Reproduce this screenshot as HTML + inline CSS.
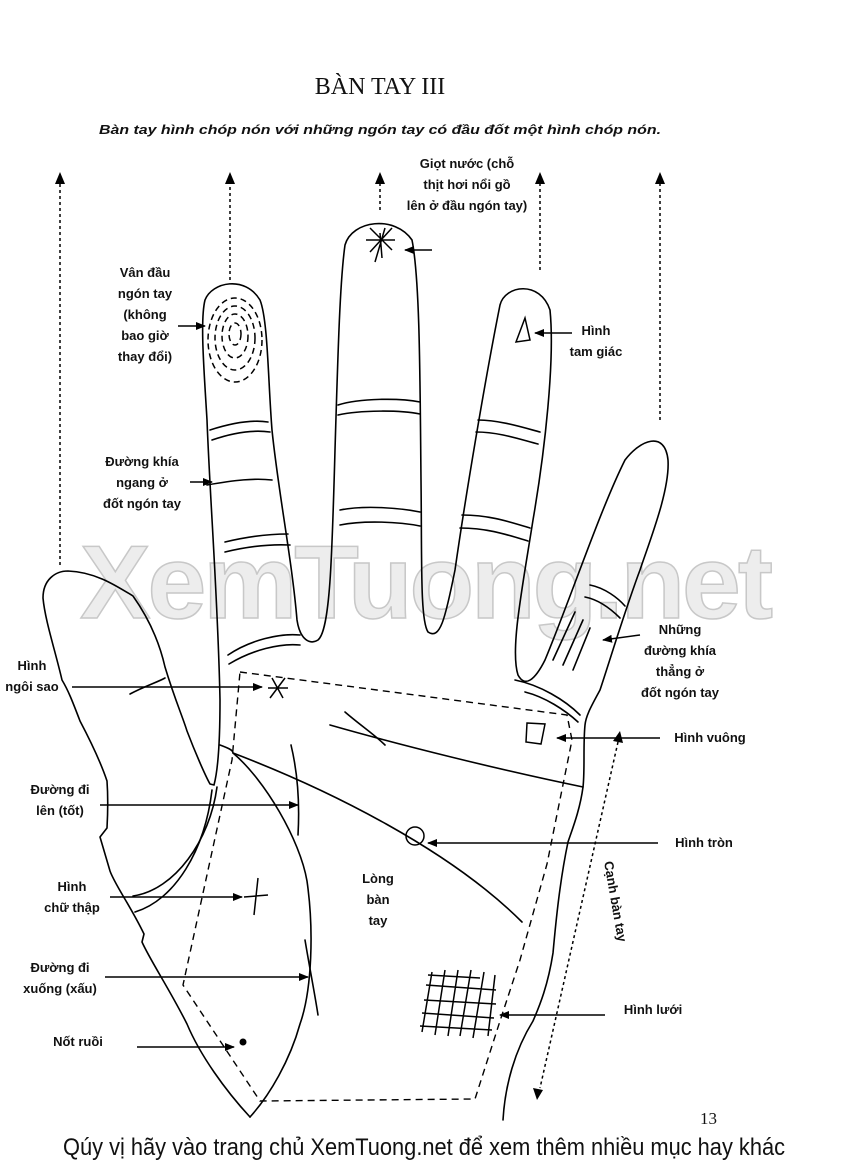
<!DOCTYPE html>
<html><head><meta charset="utf-8">
<style>
html,body{margin:0;padding:0;background:#fff;}
body{width:850px;height:1171px;overflow:hidden;position:relative;}
svg{position:absolute;left:0;top:0;}
.l{font-family:"Liberation Sans",sans-serif;font-weight:bold;font-size:13px;fill:#111;}
</style></head><body>
<svg width="850" height="1171" viewBox="0 0 850 1171" xmlns="http://www.w3.org/2000/svg">
<defs>
<marker id="a" markerWidth="10" markerHeight="8" refX="9" refY="4" orient="auto" markerUnits="userSpaceOnUse">
<path d="M0,0 L10,4 L0,8 z" fill="#000"/></marker>
</defs>
<!-- watermark -->
<text x="425" y="618" text-anchor="middle" font-family="Liberation Sans,sans-serif" font-weight="bold" font-size="104" fill="#ededed" stroke="#c8c8c8" stroke-width="1.5" letter-spacing="-3" textLength="690" lengthAdjust="spacingAndGlyphs">XemTuong.net</text>

<text x="380" y="94" text-anchor="middle" font-family="Liberation Serif,serif" font-size="24" fill="#111">BÀN TAY III</text>
<text x="380" y="134" text-anchor="middle" font-family="Liberation Sans,sans-serif" font-weight="bold" font-style="italic" font-size="13" fill="#111" textLength="562" lengthAdjust="spacingAndGlyphs">Bàn tay hình chóp nón với những ngón tay có đầu đốt một hình chóp nón.</text>

<!-- dotted vertical arrows -->
<g stroke="#000" stroke-width="1.5" stroke-dasharray="3,3" fill="none">
<line x1="60" y1="565" x2="60" y2="182"/>
<line x1="230" y1="280" x2="230" y2="182"/>
<line x1="380" y1="210" x2="380" y2="182"/>
<line x1="540" y1="270" x2="540" y2="182"/>
<line x1="660" y1="420" x2="660" y2="182"/>
<line x1="618" y1="742" x2="540" y2="1088"/>
</g>
<g fill="#000">
<path d="M60,172 l-5,12 h10z"/><path d="M230,172 l-5,12 h10z"/><path d="M380,172 l-5,12 h10z"/>
<path d="M540,172 l-5,12 h10z"/><path d="M660,172 l-5,12 h10z"/>
<path d="M620,731 l-7,10 l10,2z"/><path d="M537,1100 l-4,-12 l10,2z"/>
</g>

<!-- hand outline -->
<g fill="none" stroke="#000" stroke-width="1.6" stroke-linecap="round" stroke-linejoin="round">
<path d="M250,1117 C225,1090 200,1055 187,1024 C170,990 150,960 142,942 L144,934 C130,905 115,885 110,871 L100,837 L107,828 C108,810 108,795 107,781 C100,760 90,740 80,721 C72,700 68,690 62,680 C55,650 45,620 43,598 C43,580 55,571 68,571 C95,572 115,585 133,596 C150,620 160,645 165,667 C175,700 182,715 187,731 C195,752 205,775 210,784 L214,785 C218,770 220,740 220,700 C218,600 210,500 207,420 C204,370 200,320 205,300 C212,282 245,275 260,300 C268,320 268,380 272,430 C278,490 292,560 297,620 C300,640 310,645 318,640 C330,630 332,560 335,450 C338,350 340,280 345,245 C352,220 395,215 412,240 C420,280 420,380 421,480 C422,560 420,620 428,632 C440,640 445,620 455,570 C465,500 485,380 500,305 C505,285 540,280 550,310 C555,360 545,450 533,520 C522,590 510,650 518,675 C525,688 535,680 545,660 C570,600 600,510 625,460 C640,440 665,430 668,460 C670,490 650,540 640,570 C625,610 610,660 600,690 C592,705 586,715 585,725 C583,745 585,770 583,787 C580,810 572,830 568,842 C560,880 556,920 553,953 C548,985 540,1005 533,1021 C515,1050 505,1085 503,1120"/>
<!-- finger creases -->
<path d="M210,430 C235,422 255,420 268,422"/><path d="M212,440 C235,432 255,430 270,432"/>
<path d="M207,485 C235,480 255,478 272,480"/><path d="M225,542 C250,536 270,534 288,534"/><path d="M225,552 C250,546 270,544 290,545"/>
<path d="M338,405 C360,398 400,398 420,402"/><path d="M338,415 C360,410 400,410 420,414"/>
<path d="M340,510 C365,505 400,508 420,512"/><path d="M340,525 C365,520 400,522 420,526"/>
<path d="M478,420 C500,420 525,428 540,432"/><path d="M476,432 C500,432 522,440 538,444"/>
<path d="M462,515 C490,515 510,522 530,528"/><path d="M460,528 C488,528 508,535 528,541"/>
<path d="M590,585 C605,588 618,598 625,606"/><path d="M585,597 C600,600 612,610 620,618"/>
<path d="M553,660 L575,612"/><path d="M563,665 L583,620"/><path d="M573,670 L590,628"/>
<path d="M228,655 C250,640 280,633 300,635"/><path d="M229,664 C252,650 280,643 300,645"/>
<path d="M515,680 C540,685 565,700 580,715"/><path d="M525,692 C545,697 565,710 578,722"/>
<!-- palm lines -->
<path d="M330,725 C400,745 500,770 583,787"/>
<path d="M345,712 C360,725 375,735 385,745"/>
<path d="M233,753 C330,790 450,850 522,922"/>
<path d="M291,745 C297,770 300,800 298,835"/>
<path d="M217,787 C210,840 175,890 133,896"/>
<path d="M212,790 C205,850 175,900 135,912"/>
<path d="M220,745 C228,748 233,750 233,753 C265,780 300,840 307,881 C314,930 312,990 300,1024 C290,1060 270,1095 250,1117"/>
<path d="M305,940 C310,970 315,995 318,1015"/>
<path d="M130,694 C145,686 158,682 165,678"/>
</g>
<!-- dashed region -->
<path d="M240,672 L567,715 L572,740 L547,864 L520,960 L500,1021 L475,1099 L260,1101 L183,985 L232,760 Z" fill="none" stroke="#000" stroke-width="1.4" stroke-dasharray="7,5"/>
<!-- fingertip marks -->
<g fill="none" stroke="#000" stroke-width="1.5" stroke-dasharray="6,4">
<ellipse cx="235" cy="340" rx="27" ry="42"/><ellipse cx="235" cy="338" rx="20" ry="32"/><ellipse cx="235" cy="336" rx="13" ry="22"/><ellipse cx="235" cy="334" rx="6" ry="11"/>
</g>
<g stroke="#000" stroke-width="1.5" fill="none">
<path d="M370,228 L392,250 M392,228 L370,252 M366,240 L395,240 M380,233 L382,258 M385,228 L375,262"/>
<path d="M516,342 L525,318 L530,340 Z"/>
<path d="M272,678 L283,698 M285,678 L270,698 M268,688 L288,688"/>
<path d="M527,723 L545,724 L541,744 L526,742 Z"/>
<circle cx="415" cy="836" r="9"/>
<path d="M244,897 L268,895 M258,878 L254,915"/>
<path d="M432,972 L422,1032 M445,970 L435,1035 M458,970 L448,1036 M471,970 L460,1036 M484,972 L473,1038 M495,975 L488,1036 M426,985 L496,990 M424,1000 L496,1004 M422,1013 L494,1018 M420,1026 L492,1030 M428,975 L480,978"/>
</g>
<circle cx="243" cy="1042" r="3.5" fill="#000"/>

<!-- label arrows -->
<g stroke="#000" stroke-width="1.5" marker-end="url(#a)">
<line x1="432" y1="250" x2="405" y2="250"/>
<line x1="178" y1="326" x2="205" y2="326"/>
<line x1="572" y1="333" x2="535" y2="333"/>
<line x1="190" y1="482" x2="212" y2="482"/>
<line x1="640" y1="635" x2="603" y2="640"/>
<line x1="72" y1="687" x2="262" y2="687"/>
<line x1="660" y1="738" x2="557" y2="738"/>
<line x1="100" y1="805" x2="298" y2="805"/>
<line x1="658" y1="843" x2="428" y2="843"/>
<line x1="110" y1="897" x2="242" y2="897"/>
<line x1="105" y1="977" x2="308" y2="977"/>
<line x1="605" y1="1015" x2="500" y2="1015"/>
<line x1="137" y1="1047" x2="234" y2="1047"/>
</g>

<!-- labels -->
<g class="l">
<text x="467" y="168" text-anchor="middle">Giọt nước (chỗ</text>
<text x="467" y="189" text-anchor="middle">thịt hơi nổi gồ</text>
<text x="467" y="210" text-anchor="middle">lên ở đầu ngón tay)</text>
<text x="145" y="277" text-anchor="middle">Vân đầu</text>
<text x="145" y="298" text-anchor="middle">ngón tay</text>
<text x="145" y="319" text-anchor="middle">(không</text>
<text x="145" y="340" text-anchor="middle">bao giờ</text>
<text x="145" y="361" text-anchor="middle">thay đổi)</text>
<text x="596" y="335" text-anchor="middle">Hình</text>
<text x="596" y="356" text-anchor="middle">tam giác</text>
<text x="142" y="466" text-anchor="middle">Đường khía</text>
<text x="142" y="487" text-anchor="middle">ngang ở</text>
<text x="142" y="508" text-anchor="middle">đốt ngón tay</text>
<text x="680" y="634" text-anchor="middle">Những</text>
<text x="680" y="655" text-anchor="middle">đường khía</text>
<text x="680" y="676" text-anchor="middle">thẳng ở</text>
<text x="680" y="697" text-anchor="middle">đốt ngón tay</text>
<text x="32" y="670" text-anchor="middle">Hình</text>
<text x="32" y="691" text-anchor="middle">ngôi sao</text>
<text x="710" y="742" text-anchor="middle">Hình vuông</text>
<text x="60" y="794" text-anchor="middle">Đường đi</text>
<text x="60" y="815" text-anchor="middle">lên (tốt)</text>
<text x="704" y="847" text-anchor="middle">Hình tròn</text>
<text x="378" y="883" text-anchor="middle">Lòng</text>
<text x="378" y="904" text-anchor="middle">bàn</text>
<text x="378" y="925" text-anchor="middle">tay</text>
<text x="72" y="891" text-anchor="middle">Hình</text>
<text x="72" y="912" text-anchor="middle">chữ thập</text>
<text x="60" y="972" text-anchor="middle">Đường đi</text>
<text x="60" y="993" text-anchor="middle">xuống (xấu)</text>
<text x="653" y="1014" text-anchor="middle">Hình lưới</text>
<text x="78" y="1046" text-anchor="middle">Nốt ruồi</text>
<text x="0" y="0" transform="translate(604,862) rotate(80)">Cạnh bàn tay</text>
</g>
<text x="700" y="1124" font-family="Liberation Serif,serif" font-size="17" fill="#111">13</text>
<text x="424" y="1155" text-anchor="middle" font-family="Liberation Sans Narrow,Liberation Sans,sans-serif" font-size="24" fill="#111" textLength="722" lengthAdjust="spacingAndGlyphs">Qúy vị hãy vào trang chủ XemTuong.net để xem thêm nhiều mục hay khác</text>
</svg>
</body></html>
